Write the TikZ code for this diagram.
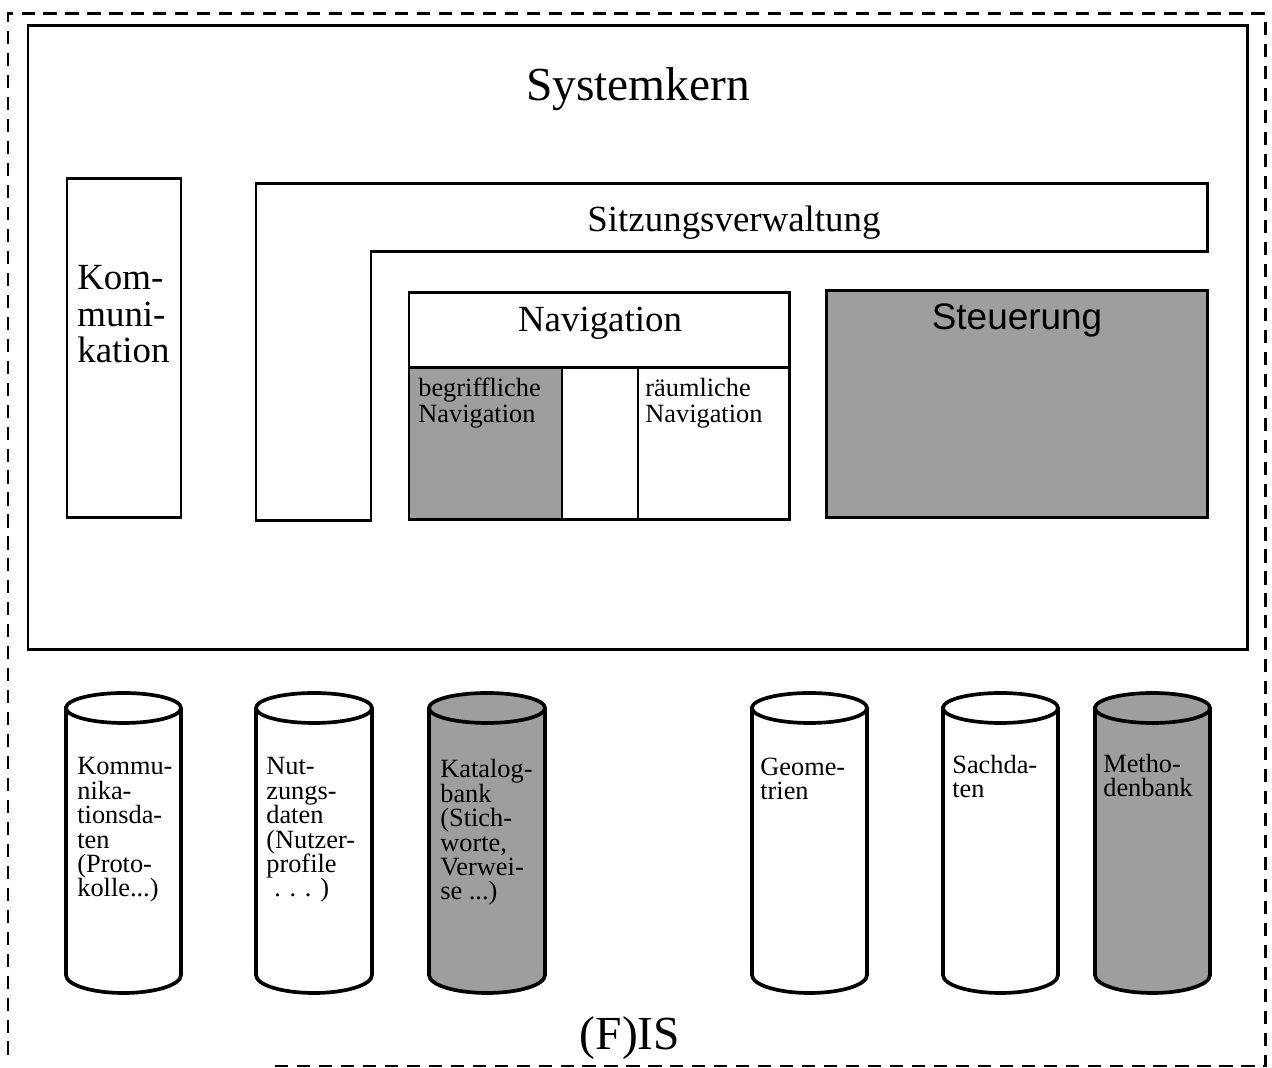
\documentclass[tikz,border=0pt]{standalone}
\usepackage{fontspec}
\setmainfont{Liberation Serif}
\newfontfamily\steuerfont{Liberation Sans}

\tikzset{
  frame/.style = {line width=1.7pt},
  shaded/.style = {fill=black!38},
  cyl/.style = {line width=2.1pt},
  fisborder/.style = {line width=1.7pt, dash pattern=on 7.5pt off 5pt},
}

\begin{document}
\begin{tikzpicture}[x=0.02cm, y=0.02cm]
\useasboundingbox (0,0) rectangle (1272,1068);
% outer (F)IS frame
\draw[fisborder] (275,2) -- (1265,2) -- (1265,1054) -- (8,1054) -- (8,6);
% Systemkern
\draw[frame] (28,418) rectangle (1247,1042);
\draw[frame] (67,550) rectangle (181,889);
\draw[frame] (256,547) -- (256,884) -- (1207,884) -- (1207,816) -- (371,816) -- (371,547) -- cycle;
\draw[frame] (409,548) rectangle (789,775);
\draw[frame, shaded] (409,548) rectangle (562,700);
\draw[frame, fill=white] (638,548) rectangle (789,700);
\draw[frame] (562,700) -- (638,700);
\draw[frame, shaded] (826,550) rectangle (1207,777);
% Datenbanken
\foreach \xl/\xr/\shade in {66/181/white, 256/372/white, 429/545/black!38,
                            752/867/white, 943/1058/white, 1095/1210/black!38}{
  \pgfmathsetmacro{\rx}{(\xr-\xl)/2}
  \draw[cyl, fill=\shade] (\xl,360) -- (\xl,93)
    arc[start angle=180, end angle=360, x radius=\rx, y radius=18]
    -- (\xr,360) arc[start angle=0, end angle=180, x radius=\rx, y radius=15] -- cycle;
  \draw[cyl] (\xl,360) arc[start angle=180, end angle=360, x radius=\rx, y radius=15];
}
% base west of a multi-line node = baseline of its last line
\begin{scope}[every node/.style = {inner sep=0pt}]
\node[anchor=base, font=\fontsize{27}{30}\selectfont] (kern) at (638,967) {Systemkern};
\node[anchor=base, font=\fontsize{21}{24}\selectfont] (sitzung) at (734,836) {Sitzungsverwaltung};
\node[anchor=base, font=\fontsize{21}{24}\selectfont] (nav) at (600,736) {Navigation};
\node[anchor=base, font=\steuerfont\fontsize{21}{24}\selectfont] (steuer) at (1017,738) {Steuerung};
\node[anchor=base west, align=left, font=\fontsize{21}{21}\selectfont] (komm) at (77,705) {Kom-\\muni-\\kation};
\node[anchor=base west, align=left, font=\fontsize{15}{15.3}\selectfont] (begr) at (418,645) {begriffliche\\Navigation};
\node[anchor=base west, align=left, font=\fontsize{15}{15.3}\selectfont] (raum) at (645,645) {räumliche\\Navigation};
\node[anchor=base, font=\fontsize{27}{30}\selectfont] (fis) at (630,18) {(F)IS};
\end{scope}
\begin{scope}[every node/.style = {inner sep=0pt, anchor=base west, align=left,
                                   font=\fontsize{15}{13.9}\selectfont}]
\node (kdaten) at (77,171) {Kommu-\\nika-\\tionsda-\\ten\\(Proto-\\kolle...)};
\node (ndaten) at (266,171) {Nut-\\zungs-\\daten\\(Nutzer-\\profile\\\hspace*{0.3em}. . . )};
\node (katalog) at (440,168) {Katalog-\\bank\\(Stich-\\worte,\\Verwei-\\se ...)};
\node (geom) at (760,268) {Geome-\\trien};
\node (sach) at (952,270) {Sachda-\\ten};
\node (methoden) at (1103,271) {Metho-\\denbank};
\end{scope}
\end{tikzpicture}
\end{document}
